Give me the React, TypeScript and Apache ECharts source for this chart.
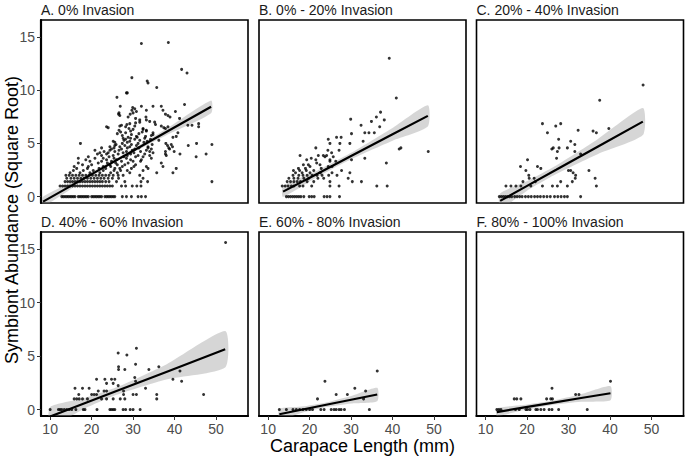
import React, { useEffect, useRef } from 'react';
import * as echarts from 'echarts';

const FONT = "'Liberation Sans', Arial, Helvetica, sans-serif";

const panelTitles = [
  'A. 0% Invasion',
  'B. 0% - 20% Invasion',
  'C. 20% - 40% Invasion',
  'D. 40% - 60% Invasion',
  'E. 60% - 80% Invasion',
  'F. 80% - 100% Invasion',
];
const xTicks = [10, 20, 30, 40, 50];
const yTicks = [0, 5, 10, 15];
const xTitle = 'Carapace Length (mm)';
const yTitle = 'Symbiont Abundance (Square Root)';
const X_MIN = 7.8;
const X_MAX = 57.7;
const Y_MIN = -0.6;
const Y_MAX = 16.6;

type Rows = [number, number[]][];

// each row: [y value, x values at that y]
const ptsA: Rows = [
  [0, [12.8, 13.2, 13.6, 14, 14.4, 14.8, 15.2, 15.6, 16, 16.8, 17.2, 17.6, 18, 18.4, 18.8, 19.2, 20, 20.4, 20.8, 21.2, 21.6, 22, 22.4, 23.2, 23.6, 24, 24.4, 24.8, 25.2, 25.6, 27.4, 28.4, 29.6, 31.2, 32, 33]],
  [1, [12.4, 13, 13.6, 14.2, 14.8, 15.4, 16, 16.6, 17.2, 17.8, 18.4, 19, 19.6, 20.2, 20.8, 21.4, 22, 22.6, 23.2, 23.8, 24.4, 25, 27.2, 28.2, 29.8, 30.9, 31.9]],
  [1.41, [13.6, 14.2, 14.8, 15.4, 16, 16.6, 17.2, 17.8, 18.4, 19, 19.6, 20.2, 20.8, 21.4, 22, 22.6, 23.4, 24.2, 26, 28, 31.9, 33.5, 49]],
  [1.73, [14, 15, 15.8, 16.6, 17.4, 18.2, 19, 19.8, 20.6, 21.4, 22.2, 23, 24, 25, 26.5, 32.4]],
  [2, [13.8, 14.6, 15.4, 16.2, 17, 17.8, 18.6, 19.4, 20.2, 21, 21.8, 22.6, 23.4, 24.2, 25.2, 26.4, 27.6, 31.6]],
  [2.24, [14.8, 17.2, 19.6, 22, 24.6, 26.2, 29.2, 35.7, 39.6]],
  [2.45, [15.6, 18, 20.4, 22.8, 25.4, 27, 28.6, 32.4]],
  [2.65, [16.4, 19, 21.8, 23.4, 25.6, 26.8, 29.6, 33.6, 40.4]],
  [2.83, [15.8, 19.2, 22.8, 24.6, 27.4, 30.2, 33.2, 37.2]],
  [3, [17.8, 20, 24.4, 26.2, 28, 30.6]],
  [3.16, [16.8, 21.6, 23.8, 25.8, 28.8, 36.8]],
  [3.32, [19.6, 22.4, 24.8, 27.2, 30, 31.8]],
  [3.46, [18.6, 23.6, 26, 29.4, 32]],
  [3.61, [16.8, 20.8, 22.8, 25.4, 28.4, 34.4]],
  [3.74, [19.2, 24.2, 27.8, 30.6, 32.4, 45.2]],
  [3.87, [22.4, 25.2, 28.6, 31.2, 34, 38]],
  [4, [21.4, 23.6, 26.4, 29.4, 32.8, 37.8, 41.3, 47.6]],
  [4.12, [22, 24, 27.6, 30.2, 34.8]],
  [4.24, [23, 25.6, 28.4, 31.8, 34, 37.8, 39.9]],
  [4.36, [20.8, 24.4, 26.6, 29.8, 33.2]],
  [4.47, [24.8, 27.2, 30.4, 34.4, 38.8]],
  [4.58, [22.4, 25.4, 28.6, 31.4, 33.6, 38.6]],
  [4.69, [24.4, 26.8, 29.2, 33.6, 39.5]],
  [4.8, [25.6, 28, 30.8, 38.3, 43.3]],
  [4.9, [25.9, 29.6, 34.6, 39.2, 49]],
  [5, [17.3, 27.4, 31.2, 37.9, 45.3]],
  [5.1, [25.6, 28.6, 32.6]],
  [5.2, [25.2, 29.2, 33.4]],
  [5.29, [27.8, 31.6, 36.2]],
  [5.39, [28.2, 30.4, 34.2]],
  [5.48, [27.6, 29.4, 32.8]],
  [5.57, [28.8, 31, 39.6]],
  [5.66, [30.8, 33, 40.4]],
  [5.74, [27.4, 34.4]],
  [5.83, [29.6, 34.8]],
  [5.92, [26.2, 31.4]],
  [6, [28.2, 34.8, 40.8]],
  [6.08, [27, 32.2]],
  [6.16, [29.4, 33.2]],
  [6.24, [26.6, 33.2]],
  [6.32, [30, 32.4]],
  [6.4, [29, 32.4, 37.8]],
  [6.48, [24, 37.4]],
  [6.56, [23.6, 28.2, 38.4, 45.8]],
  [6.63, [26.8, 30.4, 36.8]],
  [6.71, [27.2, 43.2, 44.2]],
  [6.78, [28.5, 35.4]],
  [6.86, [29.2, 45.8]],
  [6.93, [30.6]],
  [7, [31.6, 35.2]],
  [7.07, [34]],
  [7.21, [31.6, 33.2]],
  [7.35, [30.6, 41.2]],
  [7.48, [28.8, 33.1, 38.9]],
  [7.62, [26.8, 38.4]],
  [7.75, [26.5, 29.3, 37.8]],
  [7.87, [26.6, 30]],
  [8, [30.8, 40.2]],
  [8.12, [29.7, 33.2, 37.2]],
  [8.25, [30.4]],
  [8.37, [29.9]],
  [8.49, [26.9, 32, 34.8, 36.8]],
  [8.66, [42.4]],
  [9.33, [26.1]],
  [9.75, [28.4, 28.6]],
  [10.25, [35.7]],
  [10.68, [33.6]],
  [10.86, [33.4]],
  [11.18, [29.7]],
  [11.62, [43]],
  [11.96, [41.7]],
  [14.39, [32]],
  [14.49, [38.5]],
];

const ptsB: Rows = [
  [0, [14.4, 14.9, 15.4, 15.9, 16.4, 16.9, 17.4, 17.9, 18.6, 19.9, 20.5, 21.1, 23.5, 24.2, 24.9, 27.2]],
  [1, [13.4, 14.1, 14.8, 15.6, 16.2, 17.6, 18.4, 20.5, 24.9, 27.1, 36.2, 38.7]],
  [1.41, [14.6, 15.4, 16.2, 17, 17.8, 19.4, 21, 24.9, 30.3, 32.5]],
  [1.73, [15, 16.2, 17.2, 18.6, 19.8, 22, 23.4, 29.3]],
  [2, [16, 17.4, 18.4, 19.4, 20.6, 21.8, 23, 24.6, 26.6]],
  [2.24, [16.6, 18.2, 20.1, 22.6, 25.4, 29.7]],
  [2.45, [16.1, 17.6, 19.2, 21, 27.7]],
  [2.65, [17.3, 19, 22.8]],
  [2.83, [20.1, 24.5, 25.4]],
  [3, [18.5, 19.7, 22.5]],
  [3.16, [21.7, 38.5]],
  [3.32, [24.9, 26.3]],
  [3.46, [19.3, 21.5, 24.9, 30.1]],
  [3.61, [20.4, 33.3]],
  [3.74, [23.7, 25.7]],
  [3.87, [17.7, 22.1, 23.3, 24.1]],
  [4.12, [25.3]],
  [4.24, [48.6]],
  [4.36, [24.4, 27.1]],
  [4.47, [41.6]],
  [4.58, [21.5, 42]],
  [5, [24.9, 27.3, 29.7]],
  [5.2, [32.9]],
  [5.39, [24.5]],
  [5.57, [26.5, 27.6]],
  [5.92, [30.1]],
  [6, [33.3, 34.3, 35.6]],
  [6.56, [36.9]],
  [6.71, [32.4]],
  [7.07, [34.9]],
  [7.21, [38]],
  [7.28, [29.9]],
  [7.48, [36.1]],
  [7.94, [37.1]],
  [9.27, [40.9]],
  [13, [39.2]],
];

const ptsC: Rows = [
  [0, [13.3, 13.8, 14.3, 14.8, 15.3, 15.8, 16.3, 17, 17.6, 18.2, 18.8, 19.6, 20.3, 21, 21.8, 22.5, 23.2, 24, 24.8, 25.6, 26.6, 27.4, 28.2, 29, 29.7, 32.9]],
  [1, [14.9, 16.1, 17.3, 18.5, 20.9, 23.7, 26.1, 27.3, 29.7, 36.7]],
  [1.41, [19, 22, 28.1, 30.9]],
  [1.73, [20.5, 21.7, 31.6, 36.4]],
  [2, [20.4, 31.7]],
  [2.24, [31.1]],
  [2.45, [19.7, 29.96, 30.5, 34.9]],
  [2.65, [23.3]],
  [2.83, [18.4, 22.5]],
  [3.46, [20.1]],
  [3.61, [27.1]],
  [4, [32.9]],
  [4.24, [27.3, 31.5]],
  [4.47, [25.96]],
  [4.58, [26.3, 27.7, 29.7]],
  [4.9, [31.5]],
  [5.2, [30.5]],
  [5.39, [27.6]],
  [6, [24.9, 36.7]],
  [6.16, [35.9]],
  [6.24, [32.3]],
  [6.4, [39.7]],
  [6.63, [26.9]],
  [6.86, [23.7, 28.1]],
  [9.06, [37.5]],
  [10.49, [47.96]],
];

const ptsD: Rows = [
  [0, [10, 12, 12.4, 12.8, 13.4, 14, 14.6, 15.2, 16.2, 18, 18.4, 21.3, 24.4, 24.8, 25.2, 25.6, 27.6, 28.2, 29.3, 30, 31.7]],
  [1, [15.8, 16.4, 17, 17.8, 19, 22.4, 23.6, 25.2, 26.9, 28, 35.7]],
  [1.41, [16.9, 20, 20.6, 21.2, 27.7, 30, 30.8, 35.7, 47]],
  [1.73, [21.6, 23, 23.6, 27.7]],
  [2, [16, 17.8, 19.4, 33]],
  [2.24, [26.4]],
  [2.45, [23.6, 25.2]],
  [2.65, [30.6, 41.7]],
  [2.83, [21.2, 23.2, 24.8, 25.6, 39.6]],
  [3, [30.4]],
  [3.61, [41.3]],
  [3.74, [26.5, 28, 33.8]],
  [4, [26.5, 36.2]],
  [4.24, [30.6]],
  [5.1, [28.5]],
  [5.29, [26.4]],
  [5.74, [30.8]],
  [15.62, [52.3]],
];

const ptsE: Rows = [
  [0, [12.7, 14.4, 16, 16.8, 17.6, 18.4, 19.2, 20, 20.7, 22.7, 23.5, 25.2, 25.9, 26.4, 27.1, 27.6, 28.4, 34.4]],
  [1, [21.9, 33]],
  [1.41, [26.4, 29.1]],
  [1.73, [33.5]],
  [2, [30.9]],
  [2.65, [23.7]],
  [3.61, [36.3]],
];

const ptsF: Rows = [
  [0, [12.7, 13.2, 13.7, 17.2, 18.1, 19.7, 20.1, 20.7, 22.1, 22.5, 23.3, 24.1, 25.3, 26, 27.6, 34.5]],
  [1, [16.9, 17.5, 18.5, 24.7, 25.7, 26.1]],
  [1.41, [31.7, 32.5]],
  [2, [26]],
  [2.65, [40.1]],
];

// fitted line stations and confidence half-widths
const fitA = { x: [8.3, 18, 28, 38, 48.8], y: [-0.47, 1.67, 3.87, 6.07, 8.44], se: [0.45, 0.2, 0.15, 0.3, 0.6] };
const fitB = { x: [13.6, 22, 30, 40, 48.5], y: [0.47, 2.18, 3.82, 5.86, 7.59], se: [0.5, 0.3, 0.3, 0.6, 1.0] };
const fitC = { x: [13.5, 20, 27, 37, 47.9], y: [-0.4, 1.01, 2.52, 4.69, 7.05], se: [0.7, 0.45, 0.4, 0.7, 1.27] };
const fitD = { x: [10, 18, 26, 38, 52.2], y: [-0.65, 0.54, 1.73, 3.52, 5.64], se: [0.9, 0.5, 0.35, 0.7, 1.7] };
const fitE = { x: [12.7, 18, 24, 30, 36.3], y: [-0.44, -0.02, 0.45, 0.92, 1.41], se: [0.5, 0.3, 0.22, 0.35, 0.63] };
const fitF = { x: [12.7, 19, 26, 33, 40.1], y: [-0.23, 0.18, 0.63, 1.08, 1.53], se: [0.36, 0.25, 0.2, 0.35, 0.66] };

const panelPts = [ptsA, ptsB, ptsC, ptsD, ptsE, ptsF];
const panelFits = [fitA, fitB, fitC, fitD, fitE, fitF];

const colLeft = [41, 259, 476.5];
const panelW = 207;
const rowTop = [20, 232];
const rowH = [183, 184];

function flatten(rows: Rows): number[][] {
  const out: number[][] = [];
  rows.forEach(([y, xs]) => xs.forEach((x) => out.push([x, y])));
  return out;
}

export default function App() {
  const ref = useRef<HTMLDivElement>(null);
  useEffect(() => {
    if (!ref.current) return;
    const chart = echarts.init(ref.current, undefined, { renderer: 'svg' });
    const grids: any[] = [];
    const xAxes: any[] = [];
    const yAxes: any[] = [];
    const series: any[] = [];
    const titles: any[] = [];
    panelTitles.forEach((t, i) => {
      const c = i % 3;
      const r = Math.floor(i / 3);
      const bottom = r === 1;
      const left = c === 0;
      grids.push({
        left: colLeft[c], top: rowTop[r], width: panelW, height: rowH[r],
        show: true, borderColor: '#000', borderWidth: 1.6, backgroundColor: '#fff',
        containLabel: false,
      });
      titles.push({
        text: t, left: colLeft[c], top: rowTop[r] - 17, padding: 0,
        textStyle: { fontSize: 14, fontWeight: 'normal', color: '#1a1a1a', fontFamily: FONT },
      });
      xAxes.push({
        type: 'value', gridIndex: i, min: X_MIN, max: X_MAX,
        splitLine: { show: false },
        axisLine: { show: bottom, onZero: false, lineStyle: { color: '#000', width: 2.2 } },
        axisTick: { show: bottom, customValues: xTicks, length: 4, lineStyle: { color: '#333', width: 1 } },
        axisLabel: { show: bottom, customValues: xTicks, fontSize: 14, color: '#4d4d4d', margin: 6, fontFamily: FONT },
      });
      yAxes.push({
        type: 'value', gridIndex: i, min: Y_MIN, max: Y_MAX,
        splitLine: { show: false },
        axisLine: { show: left, onZero: false, lineStyle: { color: '#000', width: 2.2 } },
        axisTick: { show: left, customValues: yTicks, length: 4, lineStyle: { color: '#333', width: 1 } },
        axisLabel: { show: left, customValues: yTicks, fontSize: 14, color: '#4d4d4d', margin: 6, fontFamily: FONT },
      });
      const fit = panelFits[i];
      series.push({
        type: 'scatter', xAxisIndex: i, yAxisIndex: i, data: flatten(panelPts[i]),
        symbolSize: 3, itemStyle: { color: '#000' }, silent: true, clip: true,
      });
      series.push({
        type: 'custom', xAxisIndex: i, yAxisIndex: i, clip: true, silent: true,
        data: [[fit.x[0], fit.y[0]]],
        renderItem: (_p: any, api: any) => {
          const pts: number[][] = [];
          for (let k = 0; k < fit.x.length; k++) pts.push(api.coord([fit.x[k], fit.y[k] + fit.se[k]]));
          for (let k = fit.x.length - 1; k >= 0; k--) pts.push(api.coord([fit.x[k], fit.y[k] - fit.se[k]]));
          return {
            type: 'polygon',
            shape: { points: pts, smooth: 0.2 },
            style: { fill: 'rgba(153,153,153,0.4)', stroke: 'none' },
          };
        },
      });
      series.push({
        type: 'line', xAxisIndex: i, yAxisIndex: i,
        data: fit.x.map((x, k) => [x, fit.y[k]]),
        symbol: 'none', showSymbol: false, clip: true, silent: true,
        lineStyle: { color: '#000', width: 2.2 },
      });
    });
    chart.setOption({
      animation: false,
      backgroundColor: '#fff',
      textStyle: { fontFamily: FONT },
      title: titles,
      grid: grids,
      xAxis: xAxes,
      yAxis: yAxes,
      series,
      graphic: [
        {
          type: 'text', x: 362.5, y: 446,
          style: {
            text: xTitle, font: `18px ${FONT}`, fill: '#000',
            align: 'center', verticalAlign: 'middle', textAlign: 'center', textVerticalAlign: 'middle',
          },
        },
        {
          type: 'text', x: 12, y: 220, rotation: Math.PI / 2,
          style: {
            text: yTitle, font: `18px ${FONT}`, fill: '#000',
            align: 'center', verticalAlign: 'middle', textAlign: 'center', textVerticalAlign: 'middle',
          },
        },
      ],
    });
    return () => chart.dispose();
  }, []);
  return (
    <div
      ref={ref}
      style={{ position: 'absolute', left: 0, top: 0, width: 685, height: 457 }}
    />
  );
}
